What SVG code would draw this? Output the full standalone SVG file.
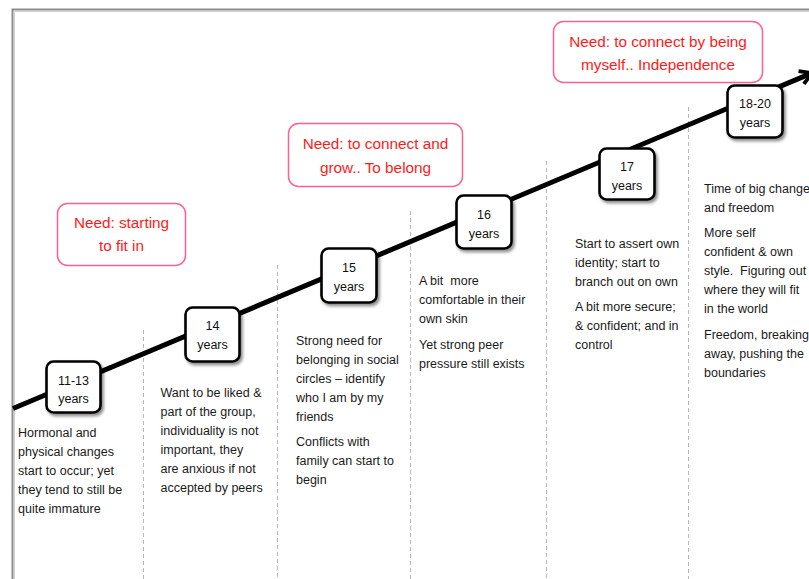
<svg xmlns="http://www.w3.org/2000/svg" width="809" height="579" viewBox="0 0 809 579">
<style>
  .body { font-family: "Liberation Sans", Arial, sans-serif; font-size: 12.5px; fill: #1a1a1a; }
  .age { font-family: "Liberation Sans", Arial, sans-serif; font-size: 12.5px; fill: #111; text-anchor: middle; }
  .need { font-family: "Liberation Sans", Arial, sans-serif; font-size: 15.3px; fill: #ff1a1a; text-anchor: middle; }
  .needbox { fill: #fff; stroke: #ff6090; stroke-width: 1.5; }
  .agebox { fill: #fff; stroke: #000; stroke-width: 2.6; filter: url(#sh); }
  .sep { stroke: #b8b8b8; stroke-width: 1; stroke-dasharray: 4 3; fill: none; }
</style>
<defs>
  <filter id="sh" x="-20%" y="-20%" width="150%" height="150%">
    <feDropShadow dx="2" dy="2.5" stdDeviation="1.6" flood-color="#000" flood-opacity="0.45"/>
  </filter>
  <marker id="arr" viewBox="0 0 16 16" refX="13" refY="8" markerWidth="17" markerHeight="17" markerUnits="userSpaceOnUse" orient="auto">
    <path d="M2,1.5 L13,8 L2,14.5" fill="none" stroke="#000" stroke-width="3.6"/>
  </marker>
</defs>
<rect width="809" height="579" fill="#fff"/>
<g id="frame">
  <path d="M12.5,579 V9.5 H809" fill="none" stroke="#8c8c8c" stroke-width="2"/>
  <path d="M14.5,579 V11.5 H809" fill="none" stroke="#d0d0d0" stroke-width="1"/>
</g>
<g id="separators">
  <line class="sep" x1="143.5" y1="330" x2="143.5" y2="579"/>
  <line class="sep" x1="277.5" y1="265" x2="277.5" y2="579"/>
  <line class="sep" x1="410.5" y1="211" x2="410.5" y2="579"/>
  <line class="sep" x1="546.5" y1="161" x2="546.5" y2="579"/>
  <line class="sep" x1="688.5" y1="107" x2="688.5" y2="579"/>
</g>
<g id="connectors">
  <line x1="13" y1="408.5" x2="812" y2="73" stroke="#000" stroke-width="5" marker-end="url(#arr)"/>
</g>
<g id="need1">
  <rect class="needbox" x="57.5" y="203.5" width="128" height="62" rx="10"/>
  <text class="need" x="121.5" y="228">Need: starting</text>
  <text class="need" x="121.5" y="251">to fit in</text>
</g>
<g id="need2">
  <rect class="needbox" x="288.5" y="123.5" width="174" height="63" rx="10"/>
  <text class="need" x="375.5" y="149">Need: to connect and</text>
  <text class="need" x="375.5" y="173">grow.. To belong</text>
</g>
<g id="need3">
  <rect class="needbox" x="553.5" y="21.5" width="209" height="61" rx="10"/>
  <text class="need" x="658" y="47">Need: to connect by being</text>
  <text class="need" x="658" y="70">myself.. Independence</text>
</g>
<g id="age1113">
  <rect class="agebox" x="46.5" y="361.5" width="54" height="51" rx="7"/>
  <text class="age" x="73.5" y="385">11-13</text>
  <text class="age" x="73.5" y="403">years</text>
</g>
<g id="age14">
  <rect class="agebox" x="185.5" y="307.5" width="54" height="54" rx="7"/>
  <text class="age" x="212.5" y="330">14</text>
  <text class="age" x="212.5" y="349">years</text>
</g>
<g id="age15">
  <rect class="agebox" x="321.5" y="248.5" width="55" height="54" rx="7"/>
  <text class="age" x="349" y="272">15</text>
  <text class="age" x="349" y="291">years</text>
</g>
<g id="age16">
  <rect class="agebox" x="456.5" y="195.5" width="55" height="53" rx="7"/>
  <text class="age" x="484" y="219">16</text>
  <text class="age" x="484" y="238">years</text>
</g>
<g id="age17">
  <rect class="agebox" x="599.5" y="148.5" width="55" height="51" rx="7"/>
  <text class="age" x="627" y="171">17</text>
  <text class="age" x="627" y="190">years</text>
</g>
<g id="age1820">
  <rect class="agebox" x="727.5" y="85.5" width="55" height="52" rx="7"/>
  <text class="age" x="755" y="108">18-20</text>
  <text class="age" x="755" y="127">years</text>
</g>
<g id="desc1113">
  <text class="body" x="18" y="437">Hormonal and</text>
  <text class="body" x="18" y="456">physical changes</text>
  <text class="body" x="18" y="475">start to occur; yet</text>
  <text class="body" x="18" y="494">they tend to still be</text>
  <text class="body" x="18" y="513">quite immature</text>
</g>
<g id="desc14">
  <text class="body" x="160.5" y="397">Want to be liked &amp;</text>
  <text class="body" x="160.5" y="416">part of the group,</text>
  <text class="body" x="160.5" y="435">individuality is not</text>
  <text class="body" x="160.5" y="454">important, they</text>
  <text class="body" x="160.5" y="473">are anxious if not</text>
  <text class="body" x="160.5" y="492">accepted by peers</text>
</g>
<g id="desc15">
  <text class="body" x="296" y="345">Strong need for</text>
  <text class="body" x="296" y="364">belonging in social</text>
  <text class="body" x="296" y="383">circles – identify</text>
  <text class="body" x="296" y="402">who I am by my</text>
  <text class="body" x="296" y="421">friends</text>
  <text class="body" x="296" y="446">Conflicts with</text>
  <text class="body" x="296" y="465">family can start to</text>
  <text class="body" x="296" y="484">begin</text>
</g>
<g id="desc16">
  <text class="body" x="419" y="285" xml:space="preserve">A bit  more</text>
  <text class="body" x="419" y="304">comfortable in their</text>
  <text class="body" x="419" y="323">own skin</text>
  <text class="body" x="419" y="349">Yet strong peer</text>
  <text class="body" x="419" y="368">pressure still exists</text>
</g>
<g id="desc17">
  <text class="body" x="575" y="248">Start to assert own</text>
  <text class="body" x="575" y="267">identity; start to</text>
  <text class="body" x="575" y="286">branch out on own</text>
  <text class="body" x="575" y="311">A bit more secure;</text>
  <text class="body" x="575" y="330">&amp; confident; and in</text>
  <text class="body" x="575" y="349">control</text>
</g>
<g id="desc1820">
  <text class="body" x="704" y="193">Time of big change</text>
  <text class="body" x="704" y="212">and freedom</text>
  <text class="body" x="704" y="237">More self</text>
  <text class="body" x="704" y="256">confident &amp; own</text>
  <text class="body" x="704" y="275" xml:space="preserve">style.  Figuring out</text>
  <text class="body" x="704" y="294">where they will fit</text>
  <text class="body" x="704" y="313">in the world</text>
  <text class="body" x="704" y="339">Freedom, breaking</text>
  <text class="body" x="704" y="358">away, pushing the</text>
  <text class="body" x="704" y="377">boundaries</text>
</g>
</svg>
